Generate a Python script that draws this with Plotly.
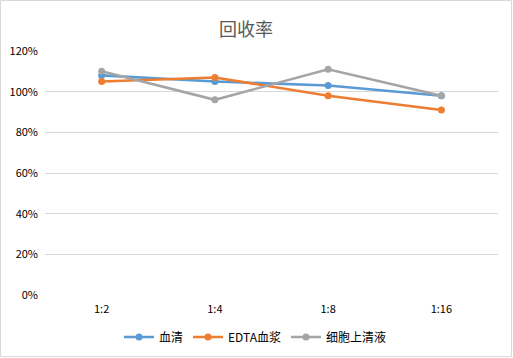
import plotly.graph_objects as go

categories = ["1:2", "1:4", "1:8", "1:16"]
serum = [1.08, 1.05, 1.03, 0.98]
edta_plasma = [1.05, 1.07, 0.98, 0.91]
supernatant = [1.10, 0.96, 1.11, 0.98]
series_names = ["血清", "EDTA血浆", "细胞上清液"]
colors = ["#5B9BD5", "#ED7D31", "#A5A5A5"]
y_ticks = [0, 0.2, 0.4, 0.6, 0.8, 1.0, 1.2]

W, H = 513, 358
L, R, T, B = 45, 15, 51, 63
pw, ph = W - L - R, H - T - B

fig = go.Figure()
for name, vals, c in zip(series_names, [serum, edta_plasma, supernatant], colors):
    fig.add_trace(go.Scatter(
        x=categories, y=vals, name=name, mode="lines+markers",
        line=dict(color=c, width=2.6), marker=dict(color=c, size=7),
    ))

fig.update_layout(
    width=W, height=H,
    margin=dict(l=L, r=R, t=T, b=B, autoexpand=False),
    paper_bgcolor="white", plot_bgcolor="white",
    font=dict(family="Noto Sans CJK SC, DejaVu Sans", size=11, color="#595959"),
    title=dict(text="回收率", x=246 / W, xanchor="center", y=1 - 30 / H, yanchor="middle",
               font=dict(size=18, color="#595959")),
    xaxis=dict(showgrid=False, showline=False, zeroline=False, ticks="",
               range=[-0.5, 3.5], automargin=False,
               tickfont=dict(color="#000000", size=11), ticklabelstandoff=6),
    yaxis=dict(range=[0, 1.2], tickvals=y_ticks, tickformat=".0%", automargin=False,
               showgrid=True, gridcolor="#D9D9D9", gridwidth=1, zeroline=False,
               showline=False, ticks="", tickfont=dict(color="#000000", size=11),
               ticklabelstandoff=6),
    legend=dict(orientation="h", xref="container", yref="container",
                x=255 / W, xanchor="center", y=1 - 337 / H, yanchor="middle",
                font=dict(size=12, color="#000000"), itemwidth=30,
                tracegroupgap=0, bgcolor="rgba(0,0,0,0)"),
    shapes=[dict(type="rect", xref="paper", yref="paper",
                 x0=(0.5 - L) / pw, x1=(W - 1.5 - L) / pw,
                 y0=(T + ph - (H - 1.5)) / ph, y1=(T + ph - 0.5) / ph,
                 line=dict(color="#D9D9D9", width=1), fillcolor="rgba(0,0,0,0)", layer="below")],
)

fig.write_html(
    "out.html",
    config={"displayModeBar": False},
    post_script="document.body.style.margin='0';document.body.style.overflow='hidden';",
)
